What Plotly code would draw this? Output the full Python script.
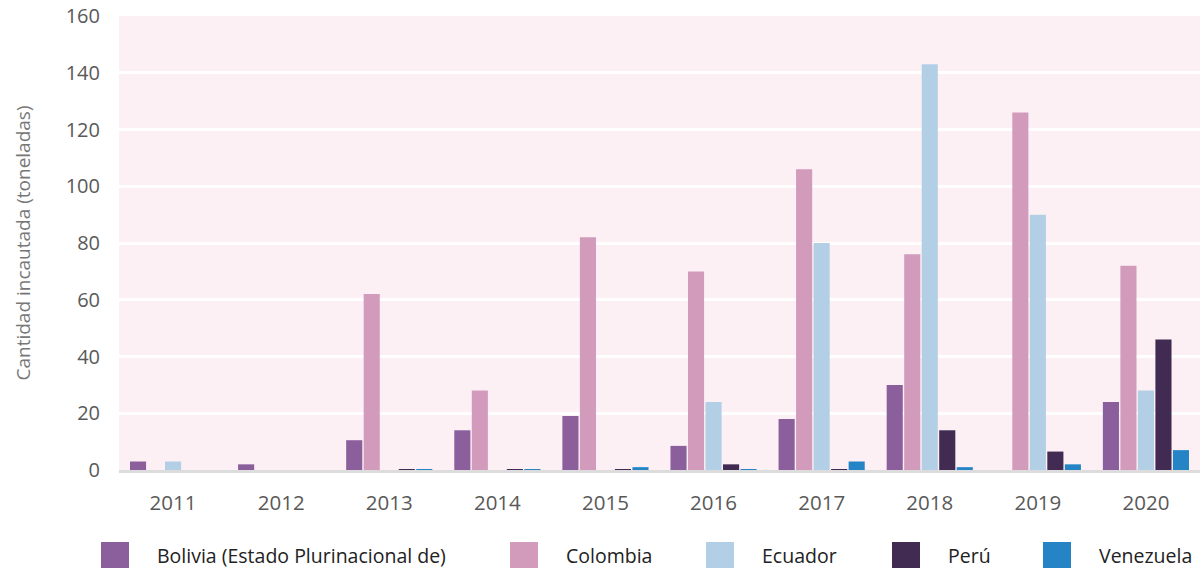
import plotly.graph_objects as go

years = ["2011", "2012", "2013", "2014", "2015", "2016", "2017", "2018", "2019", "2020"]
countries = ["Bolivia (Estado Plurinacional de)", "Colombia", "Ecuador", "Perú", "Venezuela"]
colors = ["#8b5f9c", "#d39bbb", "#b3cfe6", "#412b52", "#2484c6"]

bolivia = [3, 2, 10.5, 14, 19, 8.5, 18, 30, 0, 24]
colombia = [0, 0, 62, 28, 82, 70, 106, 76, 126, 72]
ecuador = [3, 0, 0, 0, 0, 24, 80, 143, 90, 28]
peru = [0, 0, 0.3, 0.3, 0.3, 2, 0.3, 14, 6.5, 46]
venezuela = [0, 0, 0.3, 0.3, 1, 0.3, 3, 1, 2, 7]
series = [bolivia, colombia, ecuador, peru, venezuela]

W, H = 1200, 568
ML, MR, MT, MB = 119, 0, 16, 98
font = "Open Sans"

# legend squares, left edges in pixels
legend_x = [101, 510, 706, 892, 1043]


def px_x(p):
    return (p - ML) / (W - ML - MR)


def px_y(p):
    return (H - MB - p) / (H - MT - MB)


fig = go.Figure()
for name, vals, col in zip(countries, series, colors):
    fig.add_trace(go.Bar(x=years, y=vals, name=name, marker_color=col,
                         marker_line_width=0, showlegend=False))

shapes = []
annotations = []
for name, col, lx in zip(countries, colors, legend_x):
    shapes.append(dict(type="rect", xref="paper", yref="paper",
                       x0=px_x(lx), x1=px_x(lx + 28), y0=px_y(568), y1=px_y(542),
                       fillcolor=col, line_width=0, layer="above"))
    annotations.append(dict(text=name, xref="paper", yref="paper",
                            x=px_x(lx + 54), y=px_y(555), xanchor="left", yanchor="middle",
                            showarrow=False, font=dict(family=font, size=19.5, color="#222222")))

fig.update_layout(
    width=W, height=H,
    margin=dict(l=ML, r=MR, t=MT, b=MB),
    paper_bgcolor="white",
    plot_bgcolor="#fcf0f5",
    barmode="group",
    bargap=0.19,
    bargroupgap=0.08,
    shapes=shapes,
    annotations=annotations,
    font=dict(family=font, size=20, color="#595959"),
)
fig.update_xaxes(showgrid=False, showline=True, linecolor="#dcdcdc", linewidth=3,
                 ticks="", ticklabelstandoff=12, tickfont=dict(size=20.5, color="#595959"))
fig.update_yaxes(range=[0, 160], dtick=20, showgrid=True, gridcolor="white", gridwidth=3,
                 zeroline=False, ticks="", ticklabelstandoff=18,
                 tickfont=dict(size=20, color="#595959"),
                 title=dict(text="Cantidad incautada (toneladas)", standoff=30,
                            font=dict(size=19, color="#777777")))

# drop the page's default body margin so the figure sits at the window corner
fig.write_html("out.html", config={"displayModeBar": False},
               post_script="document.body.style.margin='0';")
